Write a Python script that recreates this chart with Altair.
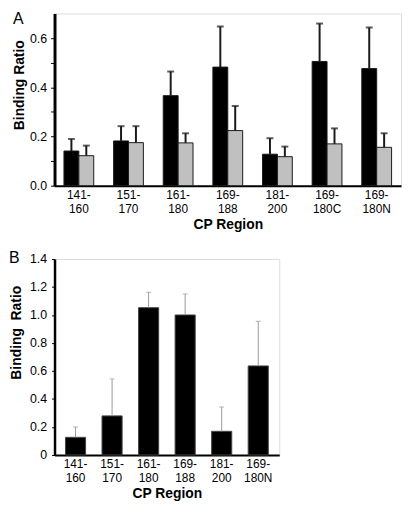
import altair as alt
import pandas as pd

FONT = "Liberation Sans"

# ---- Panel A data ----
regions_a = ["141-160", "151-170", "161-180", "169-188", "181-200", "169-180C", "169-180N"]
series_a = ["black", "gray"]
a_black = [0.141, 0.182, 0.366, 0.482, 0.128, 0.505, 0.476]
a_black_sd = [0.049, 0.060, 0.098, 0.165, 0.065, 0.154, 0.167]
a_gray = [0.122, 0.175, 0.174, 0.224, 0.118, 0.170, 0.156]
a_gray_sd = [0.041, 0.067, 0.039, 0.100, 0.041, 0.063, 0.057]

# ---- Panel B data ----
regions_b = ["141-160", "151-170", "161-180", "169-188", "181-200", "169-180N"]
b_vals = [0.126, 0.279, 1.052, 1.000, 0.169, 0.636]
b_sd = [0.074, 0.264, 0.110, 0.150, 0.174, 0.319]

rows = []
for i, r in enumerate(regions_a):
    rows.append(dict(region=r, series="black", value=a_black[i], top=a_black[i] + a_black_sd[i]))
    rows.append(dict(region=r, series="gray", value=a_gray[i], top=a_gray[i] + a_gray_sd[i]))
dfA = pd.DataFrame(rows)

dfB = pd.DataFrame(dict(region=regions_b, value=b_vals,
                        top=[v + s for v, s in zip(b_vals, b_sd)]))

LABEL_EXPR = ("[slice(datum.label, 0, indexof(datum.label, '-') + 1), "
              "slice(datum.label, indexof(datum.label, '-') + 1)]")

def x_axis():
    return alt.Axis(labelAngle=0, labelExpr=LABEL_EXPR, ticks=False, domainWidth=2,
                    domainColor="black", labelFontSize=12, labelLineHeight=14,
                    labelPadding=4, labelColor="black", titleFontSize=14,
                    titleFontWeight="bold", titlePadding=3, titleColor="black",
                    labelFont=FONT, titleFont=FONT, labelOverlap=False)

# ---- Panel A ----
xA = alt.X("region:N", sort=regions_a, title="CP Region",
           scale=alt.Scale(paddingInner=0.4, paddingOuter=0.19), axis=x_axis())
xoffA = alt.XOffset("series:N", sort=series_a, scale=alt.Scale(paddingInner=0, paddingOuter=0))
yA_axis = alt.Axis(values=[0, 0.1, 0.2, 0.3, 0.4, 0.5, 0.6],
                   labelExpr="round(datum.value * 10) % 2 == 0 ? format(datum.value, '.1f') : ''",
                   grid=False, tickSize=4, tickColor="black", tickWidth=1,
                   domainWidth=3, domainColor="black", labelFontSize=12.5,
                   labelPadding=4, labelColor="black", titleFontSize=14,
                   titleFontWeight="bold", titlePadding=3, titleColor="black",
                   titleY=72, labelFont=FONT, titleFont=FONT, labelOverlap=False)
yA_scale = alt.Scale(domain=[0, 0.7], nice=False)

barsA = alt.Chart(dfA).mark_bar(stroke="#1a1a1a", strokeWidth=1).encode(
    x=xA, xOffset=xoffA,
    y=alt.Y("value:Q", scale=yA_scale, title="Binding Ratio", axis=yA_axis),
    color=alt.Color("series:N", scale=alt.Scale(domain=series_a, range=["#000000", "#c0c0c0"]),
                    legend=None),
)
errA = alt.Chart(dfA).mark_rule(color="#1a1a1a", strokeWidth=2).encode(
    x=xA, xOffset=xoffA,
    y=alt.Y("value:Q", scale=yA_scale, title="Binding Ratio", axis=yA_axis), y2="top:Q")
capA = alt.Chart(dfA).mark_tick(color="#1a1a1a", thickness=2, size=7).encode(
    x=xA, xOffset=xoffA,
    y=alt.Y("top:Q", scale=yA_scale, title="Binding Ratio", axis=yA_axis))
letterA = alt.Chart(pd.DataFrame({"t": ["A"]})).mark_text(
    fontSize=16, font=FONT, align="left", baseline="top", color="black").encode(
    text="t:N", x=alt.value(-42), y=alt.value(-2))

chartA = alt.layer(barsA, errA, capA, letterA).properties(width=350, height=174)

# ---- Panel B ----
xB = alt.X("region:N", sort=regions_b, title="CP Region",
           scale=alt.Scale(paddingInner=0.45, paddingOuter=0.3), axis=x_axis())
yB_axis = alt.Axis(values=[0, 0.2, 0.4, 0.6, 0.8, 1.0, 1.2, 1.4],
                   labelExpr="datum.value == 0 ? '0' : format(datum.value, '.1f')",
                   grid=False, tickSize=3, tickColor="black", tickWidth=1,
                   domainWidth=2.5, domainColor="black", labelFontSize=12.5,
                   labelPadding=5, labelColor="black", titleFontSize=14,
                   titleFontWeight="bold", titlePadding=6, titleColor="black",
                   titleY=74, labelFont=FONT, titleFont=FONT, labelOverlap=False)
yB_scale = alt.Scale(domain=[0, 1.4], nice=False)
titleB = "Binding\u00a0 Ratio"

barsB = alt.Chart(dfB).mark_bar(color="black", stroke="#444444", strokeWidth=1).encode(
    x=xB, y=alt.Y("value:Q", scale=yB_scale, title=titleB, axis=yB_axis))
errB = alt.Chart(dfB).mark_rule(color="#999999", strokeWidth=1).encode(
    x=xB, y=alt.Y("value:Q", scale=yB_scale, title=titleB, axis=yB_axis), y2="top:Q")
capB = alt.Chart(dfB).mark_tick(color="#999999", thickness=1, size=5).encode(
    x=xB, y=alt.Y("top:Q", scale=yB_scale, title=titleB, axis=yB_axis))
letterB = alt.Chart(pd.DataFrame({"t": ["B"]})).mark_text(
    fontSize=16, font=FONT, align="left", baseline="top", color="black").encode(
    text="t:N", x=alt.value(-46), y=alt.value(-9))

chartB = alt.layer(barsB, errB, capB, letterB).properties(width=227, height=198)

chart = alt.concat(chartA, chartB, columns=1, spacing=17).properties(
    padding=0, align="none"
).configure_view(stroke=None).configure_axis(labelOverlap=False).configure(font=FONT)

chart.save("out.html", embed_options={"renderer": "svg", "actions": False})
